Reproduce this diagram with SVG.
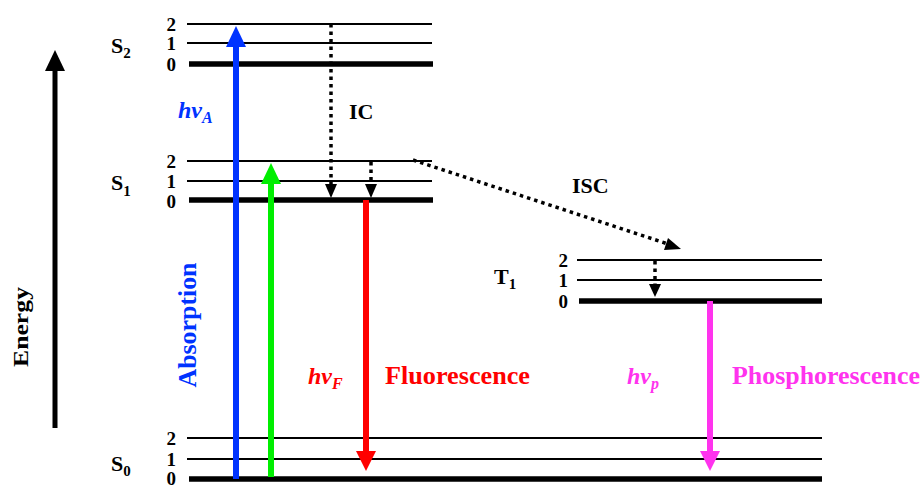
<svg xmlns="http://www.w3.org/2000/svg" width="924" height="488" viewBox="0 0 924 488">
<style>
.t{font-family:'Liberation Serif',serif;font-weight:bold;}
.lv{stroke:#000;stroke-width:2.2;}
.lv0{stroke:#000;stroke-width:5.5;}
.num{font-size:19px;text-anchor:end;}
.st{font-size:22px;}
.sub{font-size:15px;}
.dot{stroke:#000;stroke-width:3.5;stroke-dasharray:3.5 4;fill:none;}
</style>
<rect width="924" height="488" fill="#fff"/>
<g id="energy-axis" font-family="'Liberation Serif', serif" font-weight="bold">
<line x1="55" y1="428" x2="55" y2="66" stroke="#000" stroke-width="5"/>
<polygon points="55,50 45,71 65,71" fill="#000"/>
<text class="t" transform="translate(28,327) rotate(-90)" text-anchor="middle" font-size="22" textLength="80" lengthAdjust="spacingAndGlyphs">Energy</text>
</g>
<g id="S2" font-family="'Liberation Serif', serif" font-weight="bold">
<line class="lv" x1="187" y1="24" x2="432" y2="24"/>
<line class="lv" x1="187" y1="43" x2="432" y2="43"/>
<line class="lv0" x1="189" y1="64" x2="433" y2="64"/>
<text class="t num" x="176" y="31">2</text>
<text class="t num" x="176" y="50">1</text>
<text class="t num" x="176" y="71">0</text>
<text class="t st" x="111" y="53">S<tspan class="sub" dy="5">2</tspan></text>
</g>
<g id="S1" font-family="'Liberation Serif', serif" font-weight="bold">
<line class="lv" x1="187" y1="161" x2="432" y2="161"/>
<line class="lv" x1="187" y1="181" x2="432" y2="181"/>
<line class="lv0" x1="189" y1="200" x2="433" y2="200"/>
<text class="t num" x="176" y="168">2</text>
<text class="t num" x="176" y="188">1</text>
<text class="t num" x="176" y="208">0</text>
<text class="t st" x="111" y="190">S<tspan class="sub" dy="6">1</tspan></text>
</g>
<g id="T1" font-family="'Liberation Serif', serif" font-weight="bold">
<line class="lv" x1="577" y1="260" x2="822" y2="260"/>
<line class="lv" x1="577" y1="280" x2="822" y2="280"/>
<line class="lv0" x1="579" y1="301" x2="822" y2="301"/>
<text class="t num" x="568" y="267">2</text>
<text class="t num" x="568" y="287">1</text>
<text class="t num" x="568" y="308">0</text>
<text class="t st" x="494" y="284">T<tspan class="sub" dy="5">1</tspan></text>
</g>
<g id="S0" font-family="'Liberation Serif', serif" font-weight="bold">
<line class="lv" x1="187" y1="438" x2="822" y2="438"/>
<line class="lv" x1="187" y1="459" x2="822" y2="459"/>
<line class="lv0" x1="189" y1="479" x2="822" y2="479"/>
<text class="t num" x="176" y="445">2</text>
<text class="t num" x="176" y="466">1</text>
<text class="t num" x="176" y="485">0</text>
<text class="t st" x="111" y="471">S<tspan class="sub" dy="5">0</tspan></text>
</g>
<g id="connectors">
<line x1="236" y1="479" x2="236" y2="44" stroke="#0033ff" stroke-width="6"/>
<polygon points="236,26 226,47 246,47" fill="#0033ff"/>
<line x1="271" y1="477" x2="271" y2="181" stroke="#00ee00" stroke-width="6"/>
<polygon points="271,163 261,184 281,184" fill="#00ee00"/>
<line x1="366" y1="200" x2="366" y2="455" stroke="#ff0000" stroke-width="6"/>
<polygon points="366,471 356,451 376,451" fill="#ff0000"/>
<line x1="710" y1="301" x2="710" y2="455" stroke="#ff33ee" stroke-width="6"/>
<polygon points="710,471 700,451 720,451" fill="#ff33ee"/>
<line class="dot" x1="331" y1="24" x2="331" y2="184"/>
<polygon points="331,198 325,184 337,184" fill="#000"/>
<line class="dot" x1="371" y1="162" x2="371" y2="184"/>
<polygon points="371,198 365,184 377,184" fill="#000"/>
<line class="dot" x1="413" y1="160" x2="668" y2="244"/>
<polygon points="681,249 664,250 668,238" fill="#000"/>
<line class="dot" x1="655" y1="261" x2="655" y2="284"/>
<polygon points="655,297 649,284 661,284" fill="#000"/>
</g>
<g id="labels" font-family="'Liberation Serif', serif" font-weight="bold">
<text class="t" x="178" y="118" font-size="24" font-style="italic" fill="#0033ff">hv<tspan font-size="16" dy="5">A</tspan></text>
<text class="t" x="349" y="119" font-size="22">IC</text>
<text class="t" x="572" y="193" font-size="22">ISC</text>
<text class="t" transform="translate(196,325) rotate(-90)" text-anchor="middle" font-size="25" fill="#0033ff" textLength="125" lengthAdjust="spacingAndGlyphs">Absorption</text>
<text class="t" x="308" y="384" font-size="24" font-style="italic" fill="#ff0000">hv<tspan font-size="16" dy="5">F</tspan></text>
<text class="t" x="385" y="384" font-size="26" fill="#ff0000" textLength="145" lengthAdjust="spacingAndGlyphs">Fluorescence</text>
<text class="t" x="627" y="384" font-size="24" font-style="italic" fill="#ff33ee">hv<tspan font-size="16" dy="5">p</tspan></text>
<text class="t" x="732" y="384" font-size="26" fill="#ff33ee" textLength="188" lengthAdjust="spacingAndGlyphs">Phosphorescence</text>
</g>
</svg>
